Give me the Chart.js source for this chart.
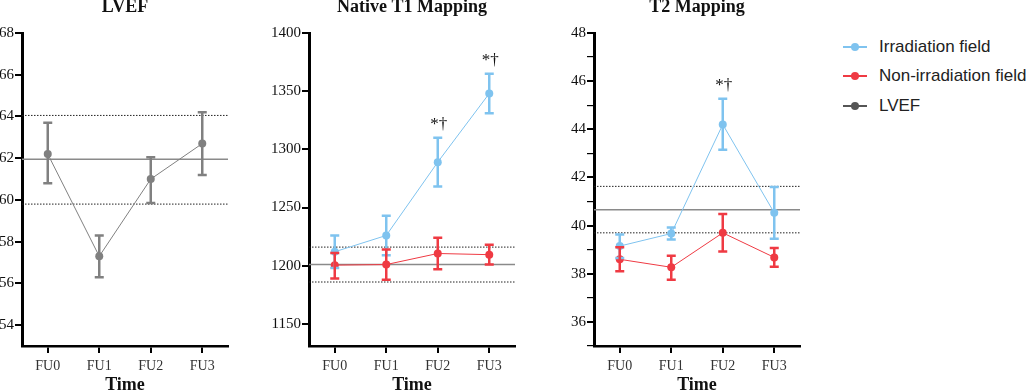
<!DOCTYPE html>
<html>
<head>
<meta charset="utf-8">
<script src="https://cdn.jsdelivr.net/npm/chart.js@4"></script>
<style>
  html, body { margin: 0; padding: 0; background: #fff; overflow: hidden; }
  body { width: 1026px; height: 391px; position: relative; }
  .panel { position: absolute; top: 0; height: 391px; }
  .legend { position: absolute; left: 843px; top: 32px; font: 17px "Liberation Sans", Arial, sans-serif; color: #222; white-space: nowrap; }
  .legend div { height: 29.5px; display: flex; align-items: center; }
  .legend .icon { position: relative; width: 24px; height: 2px; margin-right: 12px; }
  .legend .icon span { position: absolute; left: 8px; top: -3px; width: 8px; height: 8px; border-radius: 50%; }
</style>
</head>
<body>
<div class="panel" style="left:0;width:232px"><canvas id="lvefChart"></canvas></div>
<div class="panel" style="left:250px;width:269px"><canvas id="t1Chart"></canvas></div>
<div class="panel" style="left:560px;width:244px"><canvas id="t2Chart"></canvas></div>
<div class="legend" id="legend"></div>
<script>
let timePoints = ['FU0', 'FU1', 'FU2', 'FU3'];

// LVEF
let lvefMean = [62.2, 57.3, 61.0, 62.7];
let lvefUpper = [63.7, 58.3, 62.05, 64.2];
let lvefLower = [60.8, 56.3, 59.85, 61.2];
let lvefRef = [61.95, 64.05, 59.8]; // mean, upper, lower
let lvefTicks = [54, 56, 58, 60, 62, 64, 66, 68];

// Native T1
let t1IrrMean = [1212, 1226, 1289, 1348];
let t1IrrUpper = [1226, 1243, 1310, 1365];
let t1IrrLower = [1198, 1209, 1268, 1331];
let t1NonMean = [1200.5, 1201, 1210.5, 1209.5];
let t1NonUpper = [1211, 1214, 1224, 1218];
let t1NonLower = [1189, 1188, 1197, 1201];
let t1Ref = [1201, 1216, 1186];
let t1Marks = ['', '', '*†', '*†'];
let t1Ticks = [1150, 1200, 1250, 1300, 1350, 1400];

// T2
let t2IrrMean = [39.15, 39.67, 44.2, 40.53];
let t2IrrUpper = [39.63, 39.92, 45.27, 41.6];
let t2IrrLower = [38.66, 39.42, 43.15, 39.45];
let t2NonMean = [38.6, 38.27, 39.7, 38.68];
let t2NonUpper = [39.1, 38.75, 40.48, 39.07];
let t2NonLower = [38.1, 37.75, 38.93, 38.29];
let t2Ref = [40.66, 41.63, 39.7];
let t2Marks = ['', '', '*†', ''];
let t2Ticks = [35, 36, 37, 38, 39, 40, 41, 42, 43, 44, 45, 46, 47, 48];

const BLUE = '#7fc3ef';
const RED = '#ef3a43';
const GRAY = '#808080';
const SERIF = '"Liberation Serif", "Times New Roman", serif';

// error bars, reference lines and significance marks
const extrasPlugin = {
    id: 'extras',
    beforeDatasetsDraw(chart, args, opts) {
        const {ctx, chartArea, scales: {y}} = chart;
        const ref = opts.ref;
        ctx.save();
        ref.forEach((v, i) => {
            const py = y.getPixelForValue(v);
            ctx.beginPath();
            if (i === 0) {
                ctx.strokeStyle = '#8a8a8a';
                ctx.lineWidth = 1.5;
                ctx.setLineDash([]);
            } else {
                ctx.strokeStyle = '#222';
                ctx.lineWidth = 1;
                ctx.setLineDash([1.5, 1.5]);
            }
            ctx.moveTo(chartArea.left, py);
            ctx.lineTo(chartArea.right, py);
            ctx.stroke();
        });
        ctx.restore();
    },
    afterDatasetsDraw(chart, args, opts) {
        const {ctx, scales: {x, y}} = chart;
        ctx.save();
        chart.data.datasets.forEach((ds) => {
            ds.data.forEach((v, i) => {
                const px = x.getPixelForValue(i);
                const top = y.getPixelForValue(ds.upper[i]);
                const bot = y.getPixelForValue(ds.lower[i]);
                ctx.strokeStyle = ds.borderColor;
                ctx.lineWidth = 2.5;
                ctx.beginPath();
                ctx.moveTo(px, top);
                ctx.lineTo(px, bot);
                ctx.moveTo(px - 4.5, top);
                ctx.lineTo(px + 4.5, top);
                ctx.moveTo(px - 4.5, bot);
                ctx.lineTo(px + 4.5, bot);
                ctx.stroke();
            });
        });
        if (opts.marks) {
            const ds = chart.data.datasets[0];
            ctx.fillStyle = '#111';
            ctx.font = '17px ' + SERIF;
            ctx.textAlign = 'center';
            ctx.textBaseline = 'middle';
            opts.marks.forEach((m, i) => {
                if (!m) return;
                const px = x.getPixelForValue(i);
                const top = y.getPixelForValue(ds.upper[i]);
                ctx.fillText(m, px + 1, top - 13);
            });
        }
        ctx.restore();
    }
};

function makeDataset(label, color, mean, upper, lower) {
    return {
        label: label,
        data: mean,
        upper: upper,
        lower: lower,
        borderColor: color,
        backgroundColor: color,
        borderWidth: 1,
        pointRadius: 4,
        pointHoverRadius: 4,
        pointBorderWidth: 0,
        tension: 0
    };
}

function makeChart(id, title, datasets, ticks, yMin, yMax, yWidth, ref, marks) {
    return new Chart(document.getElementById(id), {
        type: 'line',
        data: { labels: timePoints, datasets: datasets },
        options: {
            responsive: true,
            maintainAspectRatio: false,
            animation: false,
            events: [],
            layout: { padding: 0 },
            plugins: {
                legend: { display: false },
                tooltip: { enabled: false },
                title: {
                    display: true,
                    text: title,
                    fullSize: false,
                    color: '#111',
                    font: { family: SERIF, size: 18, weight: 'bold', lineHeight: 1 },
                    padding: { top: -2, bottom: 17 }
                },
                extras: { ref: ref, marks: marks }
            },
            scales: {
                x: {
                    offset: true,
                    afterFit: (s) => { s.height = 45; },
                    border: { display: true, color: '#000', width: 2.5 },
                    grid: { display: true, drawOnChartArea: false, drawTicks: true, tickLength: 7, color: '#000', lineWidth: 2 },
                    ticks: { color: '#333', padding: 5, font: { family: SERIF, size: 14 } },
                    title: {
                        display: true,
                        text: 'Time',
                        color: '#111',
                        font: { family: SERIF, size: 18, weight: 'bold', lineHeight: 1 },
                        padding: { top: 0, bottom: -3 }
                    }
                },
                y: {
                    min: yMin,
                    max: yMax,
                    afterFit: (s) => { s.width = yWidth; },
                    afterBuildTicks: (s) => { s.ticks = ticks.map(v => ({ value: v })); },
                    border: { display: true, color: '#000', width: 3 },
                    grid: {
                        display: true, drawOnChartArea: false, drawTicks: true, tickLength: 7, color: '#000',
                        lineWidth: (c) => (c.tick && ticks.length > 10 && c.tick.value % 2) ? 1.2 : 2
                    },
                    ticks: {
                        color: '#111',
                        padding: 1,
                        font: { family: SERIF, size: 15 },
                        callback: (v) => (ticks.length > 10 && v % 2) ? '' : v
                    }
                }
            }
        },
        plugins: [extrasPlugin]
    });
}

makeChart('lvefChart', 'LVEF',
    [makeDataset('LVEF', GRAY, lvefMean, lvefUpper, lvefLower)],
    lvefTicks, 53, 68, 22, lvefRef, null);

makeChart('t1Chart', 'Native T1 Mapping',
    [makeDataset('Irradiation field', BLUE, t1IrrMean, t1IrrUpper, t1IrrLower),
     makeDataset('Non-irradiation field', RED, t1NonMean, t1NonUpper, t1NonLower)],
    t1Ticks, 1131, 1400, 59, t1Ref, t1Marks);

makeChart('t2Chart', 'T2 Mapping',
    [makeDataset('Irradiation field', BLUE, t2IrrMean, t2IrrUpper, t2IrrLower),
     makeDataset('Non-irradiation field', RED, t2NonMean, t2NonUpper, t2NonLower)],
    t2Ticks, 35, 48, 34, t2Ref, t2Marks);

// shared legend
let legendItems = [['Irradiation field', BLUE], ['Non-irradiation field', RED], ['LVEF', '#555']];
document.getElementById('legend').innerHTML = legendItems.map(([name, color]) =>
    '<div><span class="icon" style="background:' + color + '"><span style="background:' + color + '"></span></span>' + name + '</div>'
).join('');
</script>
</body>
</html>
